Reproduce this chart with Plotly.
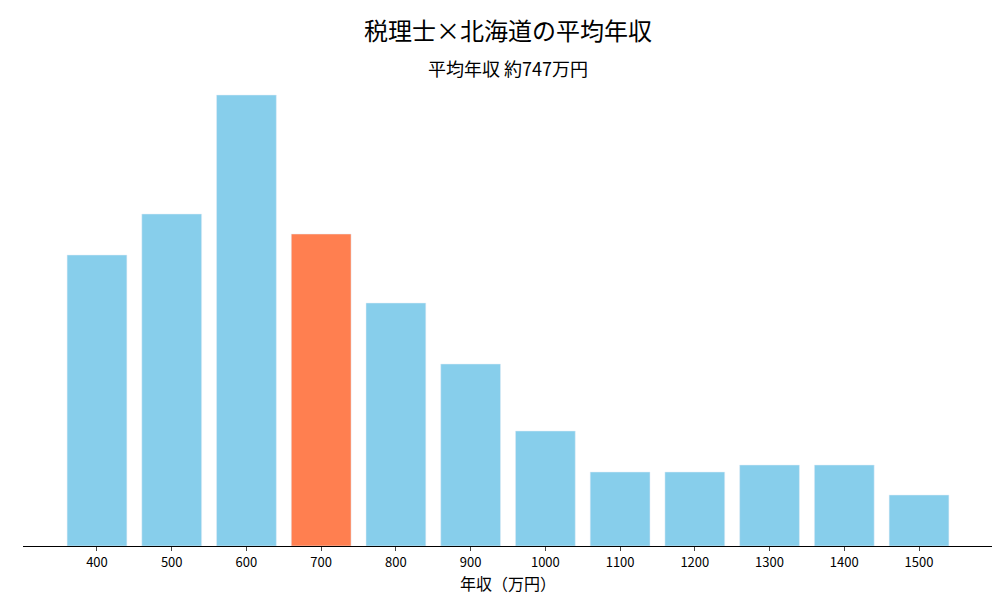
import plotly.graph_objects as go

categories = ["400", "500", "600", "700", "800", "900", "1000", "1100", "1200", "1300", "1400", "1500"]
counts = [291, 332, 451, 312, 243, 182, 115, 74, 74, 81, 81, 51]
highlight = "700"

colors = ["#FF7F50" if c == highlight else "#87CEEB" for c in categories]
xs = list(range(len(categories)))

fig = go.Figure(go.Bar(x=xs, y=counts, marker_color=colors, width=0.8))

fig.update_xaxes(
    tickmode="array", tickvals=xs, ticktext=categories,
    range=[-0.99, len(categories) - 0.01],
    showline=True, linecolor="black", ticks="outside", ticklen=4,
    title_text="年収（万円）", title_standoff=6, showgrid=False,
)
fig.update_yaxes(visible=False, range=[0, 474])

fig.update_layout(
    width=1000, height=600,
    margin=dict(l=15, r=15, t=64, b=62),
    plot_bgcolor="white", paper_bgcolor="white",
    font=dict(family="Noto Sans CJK JP", size=13, color="black"),
    showlegend=False,
    annotations=[
        dict(text="税理士×北海道の平均年収", x=0.5, y=22, xref="paper", yref="paper",
             showarrow=False, font=dict(size=24)),
        dict(text="平均年収 約747万円", x=0.5, y=60, xref="paper", yref="paper",
             showarrow=False, font=dict(size=18)),
    ],
)
# convert pixel title positions to paper coords
plot_h = 600 - 64 - 62
for a in fig.layout.annotations:
    a.y = (538 - a.y) / plot_h
    a.yanchor = "middle"

fig.write_html("out.html")
